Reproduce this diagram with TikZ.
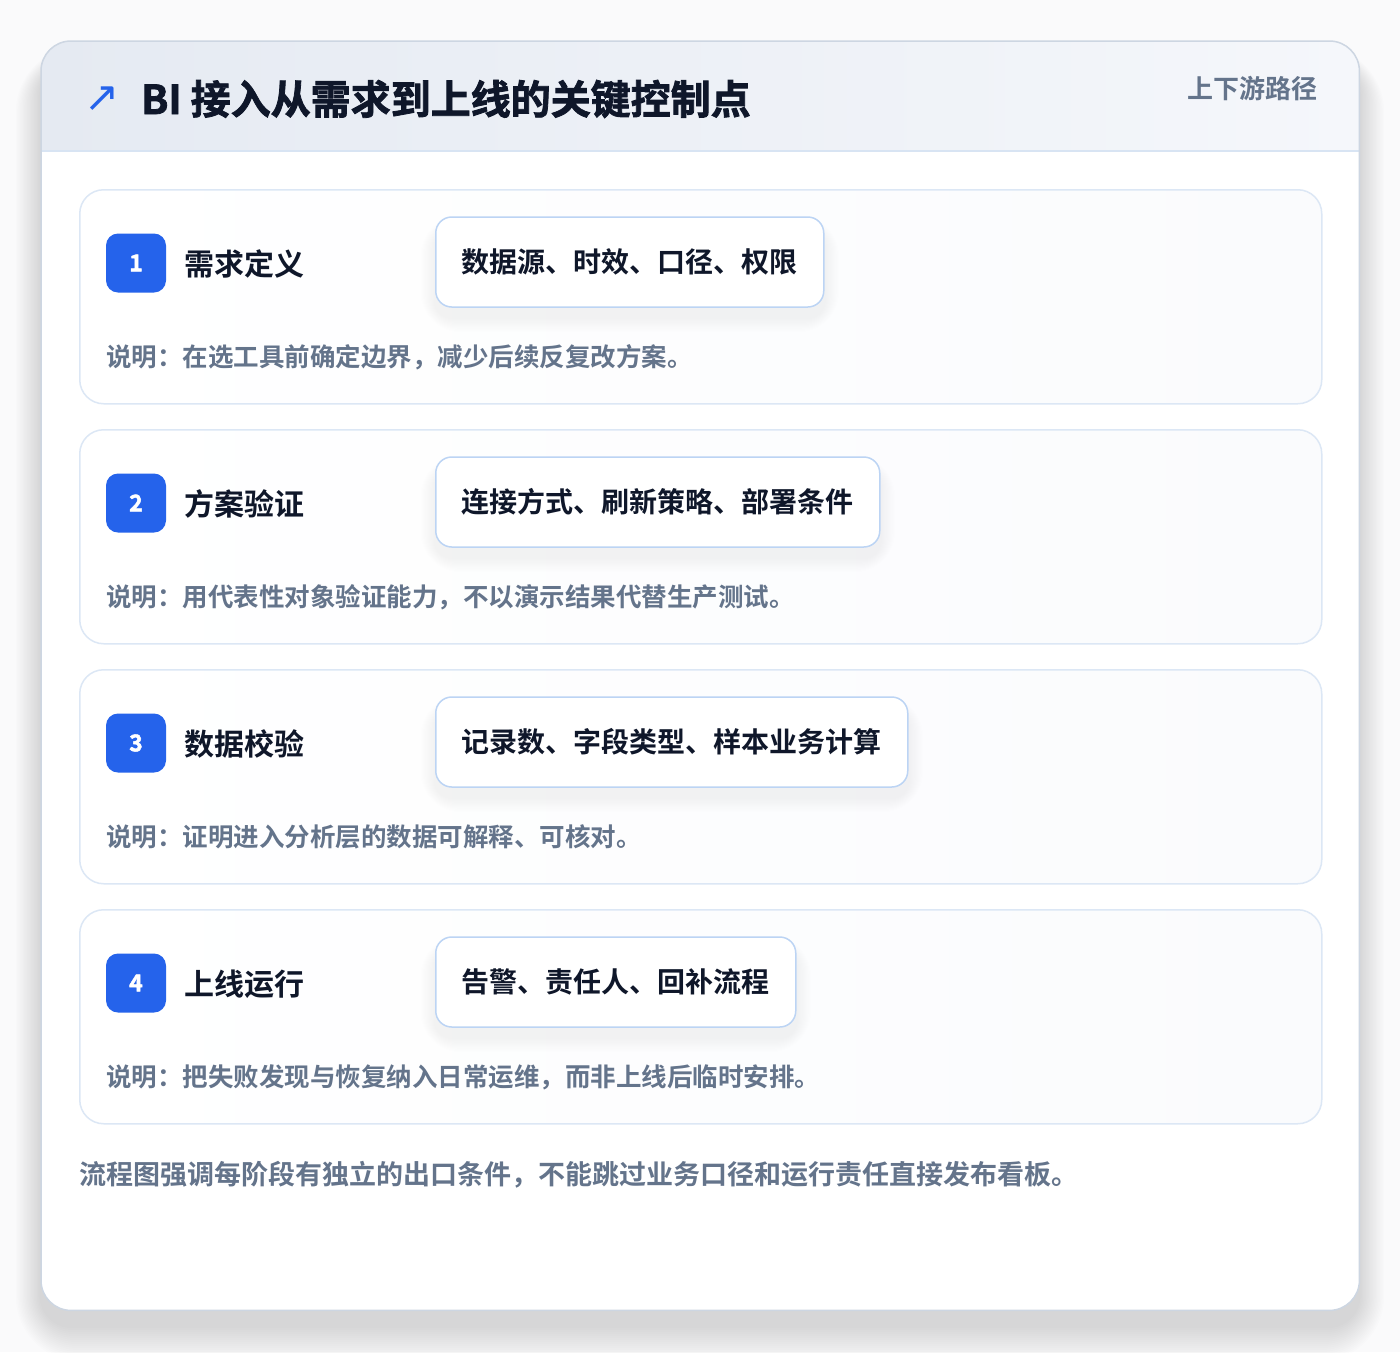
\documentclass[tikz,border=0pt]{standalone}
\usepackage{fontspec}
\setmainfont{Noto Sans CJK SC}[BoldFont={Noto Sans CJK SC Bold}]
\newfontfamily\heavyfont{Noto Sans CJK SC Bold}[FakeBold=2]
\newfontfamily\symfont{DejaVu Sans}
\definecolor{pagebg}{HTML}{FAFAFB}
\definecolor{cardborder}{HTML}{CDD6E2}
\definecolor{hdrL}{HTML}{E5EAF2}
\definecolor{hdrR}{HTML}{F5F7FB}
\definecolor{hdrline}{HTML}{D8E4F3}
\definecolor{stepborder}{HTML}{DCE7F5}
\definecolor{stepR}{HTML}{FAFBFD}
\definecolor{tagborder}{HTML}{BCD4F4}
\definecolor{accent}{HTML}{2563EB}
\definecolor{ink}{HTML}{0F172A}
\definecolor{muted}{HTML}{64748B}
\tikzset{
  fs/.style={font=\fontsize{#1}{#1}\selectfont\bfseries},
  stepcard/.style={draw=stepborder, line width=1.5pt, rounded corners=24pt, left color=white, right color=stepR,
    minimum width=1242pt, minimum height=214pt, anchor=north west, inner sep=0pt},
  badge/.style={fill=accent, rounded corners=12pt, minimum width=60pt, minimum height=59pt, inner sep=0pt,
    text=white, font=\heavyfont\fontsize{23}{23}\selectfont},
  steptitle/.style={anchor=west, inner sep=0pt, text=ink, fs=30},
  tagbox/.style={anchor=west, draw=tagborder, line width=1.5pt, fill=white, rounded corners=16pt,
    minimum height=90pt, inner xsep=26pt, inner ysep=0pt, text=ink, fs=28},
  desc/.style={anchor=west, inner sep=0pt, text=muted, fs=25.5},
}
\begin{document}
\begin{tikzpicture}[x=1pt, y=-1pt]
\useasboundingbox (0,0) rectangle (1400,1352);
\fill[pagebg] (0,0) rectangle (1400,1352);
% outer shadow
\foreach \s [evaluate=\s as \r using 30+\s] in {2,4,...,36}{
  \fill[black, opacity=0.006, rounded corners=\r pt] (41-\s*0.7,64-\s*0.5) rectangle (1359+\s*0.7,1326+\s);
}
\node[fill=white, rounded corners=30pt, minimum width=1318pt, minimum height=1269pt, anchor=north west, inner sep=0pt] (card) at (41,41) {};
\begin{scope}
  \clip[rounded corners=30pt] (card.north west) rectangle (card.south east);
  \fill[left color=hdrL, right color=hdrR] (41,41) rectangle (1359,151);
\end{scope}
\coordinate (hl) at (41,151);
\coordinate (hr) at (1359,151);
\draw[hdrline, line width=1.5pt] (hl) -- (hr);
\draw[cardborder, line width=1.5pt, rounded corners=30pt] (card.north west) rectangle (card.south east);

\node[inner sep=0pt, text=accent, font=\symfont\fontsize{42}{42}\selectfont] (icon) at (102,99) {↗};
\node[anchor=west, inner sep=0pt, text=ink, font=\heavyfont\fontsize{40}{40}\selectfont] (title) at (141,99) {BI 接入从需求到上线的关键控制点};
\node[anchor=east, inner sep=0pt, text=muted, fs=26] (sub) at (1318,89) {上下游路径};

\foreach \i/\t/\g/\d in {
  1/需求定义/{数据源、时效、口径、权限}/{说明：在选工具前确定边界，减少后续反复改方案。},
  2/方案验证/{连接方式、刷新策略、部署条件}/{说明：用代表性对象验证能力，不以演示结果代替生产测试。},
  3/数据校验/{记录数、字段类型、样本业务计算}/{说明：证明进入分析层的数据可解释、可核对。},
  4/上线运行/{告警、责任人、回补流程}/{说明：把失败发现与恢复纳入日常运维，而非上线后临时安排。}}{
  \pgfmathsetmacro{\yy}{189+(\i-1)*240}
  \node[stepcard] (s\i) at (79,\yy) {};
  \node[badge] (b\i) at (136,\yy+74) {\i};
  \node[steptitle] (t\i) at (184,\yy+75) {\t};
  \node[tagbox, draw=none, fill=none, text opacity=0] (p\i) at (435,\yy+73) {\g};
  \foreach \s [evaluate=\s as \r using 16+\s] in {2,4,...,24}{
    \fill[black, opacity=0.0035, rounded corners=\r pt] ([shift={(-\s*0.6,14-\s*0.6)}]p\i.north west) rectangle ([shift={(\s*0.6,10+\s*0.6)}]p\i.south east);
  }
  \node[tagbox] (g\i) at (435,\yy+73) {\g};
  \node[desc] (d\i) at (106,\yy+168) {\d};
}
\node[anchor=west, inner sep=0pt, text=muted, fs=27] (foot) at (79,1175) {流程图强调每阶段有独立的出口条件，不能跳过业务口径和运行责任直接发布看板。};
\end{tikzpicture}
\end{document}
